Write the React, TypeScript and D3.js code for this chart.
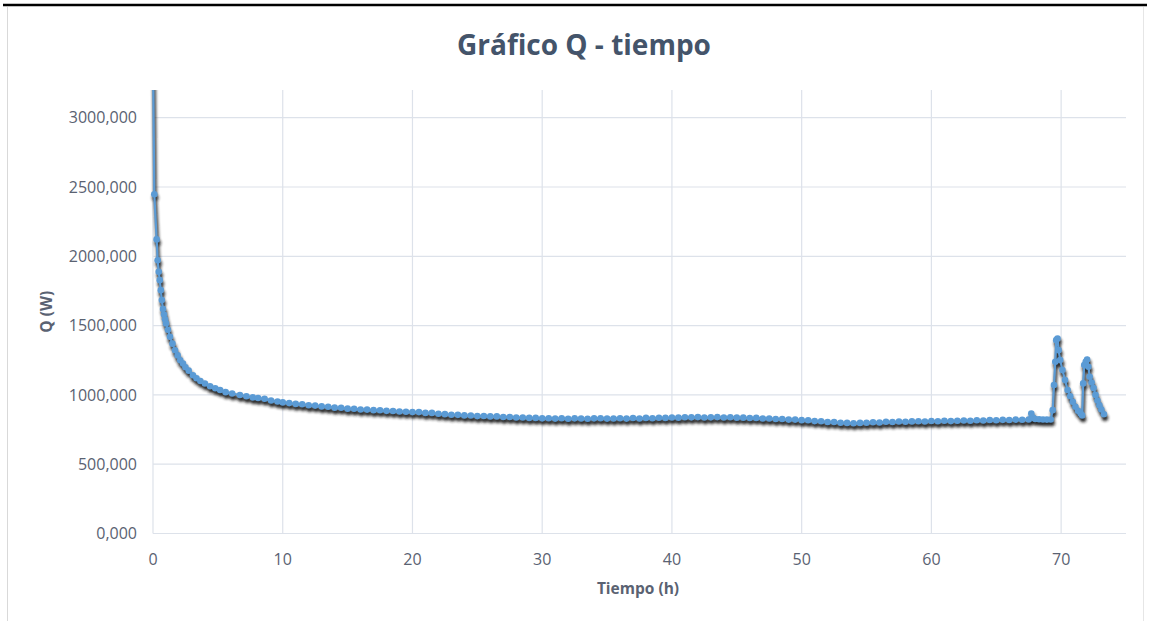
import * as d3 from "d3";
import React from "react";

// time (h) and heat flow Q (W)
const decayHours = [
  0, 0.1, 0.28, 0.36, 0.44, 0.52, 0.6, 0.68, 0.77, 0.85, 0.93, 1.0, 1.15, 1.31,
  1.5, 1.7, 1.9, 2.1, 2.31, 2.5, 2.75, 3.08, 3.35, 3.65, 4.0, 4.4, 4.8, 5.17,
  5.6, 6.1, 6.7, 7.2, 7.7, 8.1, 8.6, 9.1, 9.6, 10.0,
];
const decayQ = [
  3450, 2448, 2122, 1972, 1888, 1828, 1756, 1684, 1620, 1580, 1545, 1516, 1470,
  1419, 1370, 1322, 1285, 1250, 1226, 1200, 1175, 1142, 1120, 1100, 1082, 1062,
  1048, 1035, 1020, 1010, 999, 990, 982, 978, 972, 960, 952, 946,
];

// plateau: one reading every half hour from 10.5 h
const plateauStart = 10.5;
const plateauStep = 0.5;
const plateauQ = [
  941, 935, 933, 925, 923, 917, 915, 908, 907, 901, 900, 895, 894, 890, 889,
  885, 884, 880, 879, 876, 876, 870, 870, 864, 861, 857, 856, 852, 851, 847,
  848, 845, 845, 841, 841, 837, 837, 834, 834, 831, 832, 829, 832, 828, 831,
  830, 828, 831, 832, 829, 830, 832, 829, 833, 830, 834, 832, 835, 834, 837,
  836, 839, 838, 840, 837, 838, 840, 837, 839, 836, 836, 833, 834, 830, 830,
  826, 826, 822, 822, 818, 817, 811, 810, 805, 804, 799, 798, 795, 798, 799,
  803, 801, 806, 804, 808, 806, 809, 810, 808, 812, 810, 813, 811, 814, 815,
  813, 817, 815, 819, 817, 820, 819, 822, 821, 823,
];

const tailHours = [
  67.7, 67.85, 68.0, 68.3, 68.6, 68.9, 69.2, 69.35, 69.45, 69.55, 69.62, 69.72,
  69.8, 69.93, 70.1, 70.3, 70.5, 70.7, 70.9, 71.1, 71.3, 71.5, 71.62, 71.7,
  71.78, 71.9, 72.0, 72.1, 72.2, 72.35, 72.5, 72.65, 72.8, 72.95, 73.1, 73.3,
];
const tailQ = [
  866, 835, 826, 824, 823, 822, 823, 890, 1071, 1239, 1395, 1407, 1323, 1251,
  1179, 1107, 1035, 990, 950, 915, 885, 865, 852, 1083, 1215, 1239, 1256, 1203,
  1131, 1090, 1050, 1000, 960, 925, 895, 860,
];

const xTicks = [0, 10, 20, 30, 40, 50, 60, 70];
const yTicks = [0, 500, 1000, 1500, 2000, 2500, 3000];

type Pt = { t: number; q: number };

const points: Pt[] = [
  ...decayHours.map((t, i) => ({ t, q: decayQ[i] })),
  ...plateauQ.map((q, i) => ({ t: plateauStart + i * plateauStep, q })),
  ...tailHours.map((t, i) => ({ t, q: tailQ[i] })),
];

const W = 1150;
const H = 621;
const margin = { left: 153, right: 24, top: 90, bottom: 87.5 };

const fmt = (v: number) => `${v},000`;

export default function App() {
  const x = d3
    .scaleLinear()
    .domain([0, 75])
    .range([margin.left, W - margin.right]);
  const y = d3
    .scaleLinear()
    .domain([0, 3200])
    .range([H - margin.bottom, margin.top]);

  const line = d3
    .line<Pt>()
    .x((d) => x(d.t))
    .y((d) => y(d.q));

  const path = line(points) || "";
  const blue = "#5b9bd5";
  const grid = "#dde2ea";
  const textCol = "#5a6272";
  const font = "'Open Sans', 'Noto Sans', sans-serif";

  return (
    <div style={{ position: "absolute", left: 0, top: 0 }}>
      <svg width={W} height={H} style={{ display: "block" }}>
        <defs>
          <clipPath id="plot">
            <rect
              x={margin.left - 4}
              y={margin.top}
              width={W - margin.left - margin.right + 8}
              height={H - margin.top - margin.bottom + 4}
            />
          </clipPath>
          <filter id="shadow" x="-5%" y="-5%" width="110%" height="110%">
            <feGaussianBlur stdDeviation="1.4" />
          </filter>
        </defs>
        <rect width={W} height={H} fill="#fff" />
        {/* frame */}
        <line x1={3} x2={1147} y1={5} y2={5} stroke="#000" strokeWidth={2.5} />
        <line x1={7.5} x2={7.5} y1={7} y2={H} stroke="#d9d9d9" strokeWidth={1} />
        <line x1={1143.5} x2={1143.5} y1={7} y2={H} stroke="#e6e6e6" strokeWidth={1} />

        <text
          x={584}
          y={55}
          textAnchor="middle"
          fontFamily={font}
          fontWeight={700}
          fontSize={28}
          fill="#44546a"
        >
          Gráfico Q - tiempo
        </text>

        {/* grid */}
        {yTicks.map((v) => (
          <line
            key={"gy" + v}
            x1={x(0)}
            x2={x(75)}
            y1={y(v)}
            y2={y(v)}
            stroke={grid}
            strokeWidth={1.2}
          />
        ))}
        {xTicks.map((v) => (
          <line
            key={"gx" + v}
            x1={x(v)}
            x2={x(v)}
            y1={y(3200)}
            y2={y(0)}
            stroke={grid}
            strokeWidth={1.2}
          />
        ))}

        {/* tick labels */}
        {yTicks.map((v) => (
          <text
            key={"ly" + v}
            x={x(0) - 16}
            y={y(v)}
            dy="0.35em"
            textAnchor="end"
            fontFamily={font}
            fontSize={16}
            fill={textCol}
          >
            {fmt(v)}
          </text>
        ))}
        {xTicks.map((v) => (
          <text
            key={"lx" + v}
            x={x(v)}
            y={y(0) + 26}
            dy="0.35em"
            textAnchor="middle"
            fontFamily={font}
            fontSize={16}
            fill={textCol}
          >
            {v}
          </text>
        ))}

        <text
          x={638}
          y={594}
          textAnchor="middle"
          fontFamily={font}
          fontWeight={700}
          fontSize={15.5}
          fill={textCol}
        >
          Tiempo (h)
        </text>
        <text
          transform={`translate(52, ${(y(0) + y(3200)) / 2}) rotate(-90)`}
          textAnchor="middle"
          fontFamily={font}
          fontWeight={700}
          fontSize={15.5}
          fill={textCol}
        >
          Q (W)
        </text>

        {/* series */}
        <g clipPath="url(#plot)">
          <g transform="translate(1,3.5)" filter="url(#shadow)" opacity={0.95}>
            <path d={path} fill="none" stroke="#1a1a1a" strokeWidth={3} />
            {points.map((d, i) => (
              <circle key={"s" + i} cx={x(d.t)} cy={y(d.q)} r={3.2} fill="#1a1a1a" />
            ))}
          </g>
          <path d={path} fill="none" stroke={blue} strokeWidth={2.2} />
          {points.map((d, i) => (
            <circle key={"p" + i} cx={x(d.t)} cy={y(d.q)} r={3.3} fill={blue} />
          ))}
        </g>
      </svg>
    </div>
  );
}
